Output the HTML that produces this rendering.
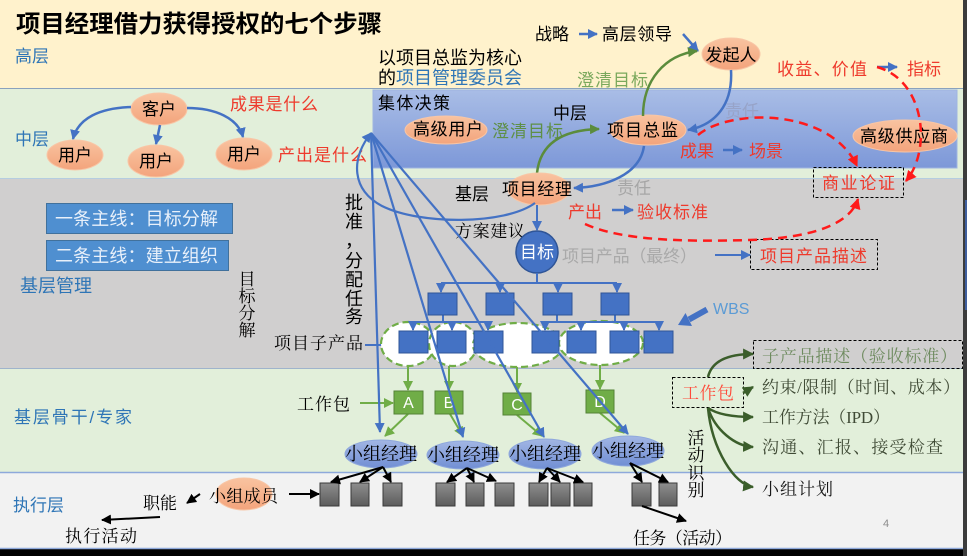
<!DOCTYPE html>
<html><head><meta charset="utf-8"><style>
html,body{margin:0;padding:0;background:#000;}
svg{display:block;}
.s{font-family:"Liberation Sans","Noto Sans CJK SC",sans-serif;}
.f{font-family:"Liberation Serif","Noto Serif CJK SC",serif;}
</style></head><body>
<svg width="967" height="556" viewBox="0 0 967 556" xmlns="http://www.w3.org/2000/svg">
<defs>
<marker id="ab" viewBox="0 0 10 10" refX="9" refY="5" markerWidth="10" markerHeight="10" orient="auto" markerUnits="userSpaceOnUse"><path d="M0,0 L10,5 L0,10 z" fill="#4472c4"/></marker>
<marker id="ag" viewBox="0 0 10 10" refX="9" refY="5" markerWidth="10" markerHeight="10" orient="auto" markerUnits="userSpaceOnUse"><path d="M0,0 L10,5 L0,10 z" fill="#70ad47"/></marker>
<marker id="ag2" viewBox="0 0 10 10" refX="9" refY="5" markerWidth="10" markerHeight="10" orient="auto" markerUnits="userSpaceOnUse"><path d="M0,0 L10,5 L0,10 z" fill="#5b8c3c"/></marker>
<marker id="ad" viewBox="0 0 10 10" refX="9" refY="5" markerWidth="11" markerHeight="11" orient="auto" markerUnits="userSpaceOnUse"><path d="M0,0 L10,5 L0,10 z" fill="#3b5e2b"/></marker>
<marker id="ak" viewBox="0 0 10 10" refX="9" refY="5" markerWidth="10" markerHeight="10" orient="auto" markerUnits="userSpaceOnUse"><path d="M0,0 L10,5 L0,10 z" fill="#000"/></marker>
<marker id="ar" viewBox="0 0 10 10" refX="9" refY="5" markerWidth="11" markerHeight="11" orient="auto" markerUnits="userSpaceOnUse"><path d="M0,0 L10,5 L0,10 z" fill="#ff1a1a"/></marker>
<linearGradient id="gblue" x1="0" y1="0" x2="0" y2="1"><stop offset="0" stop-color="#a9bde6"/><stop offset="1" stop-color="#7d98d8"/></linearGradient>
<linearGradient id="gsal" x1="0" y1="0" x2="0" y2="1"><stop offset="0" stop-color="#f9c3a0"/><stop offset="1" stop-color="#f3a47c"/></linearGradient>
<linearGradient id="gmgr" x1="0" y1="0" x2="0" y2="1"><stop offset="0" stop-color="#a2b6e4"/><stop offset="1" stop-color="#718fd4"/></linearGradient>
<linearGradient id="ggray" x1="0" y1="0" x2="0" y2="1"><stop offset="0" stop-color="#8e8e8e"/><stop offset="1" stop-color="#5c5c5c"/></linearGradient>
</defs>

<!-- bands -->
<rect x="0" y="0" width="967" height="556" fill="#000"/>
<rect x="0" y="0" width="963" height="88" fill="#fff2cc"/>
<rect x="0" y="88" width="963" height="90" fill="#e2efda"/>
<rect x="0" y="178" width="963" height="190" fill="#d0cfcf"/>
<rect x="0" y="368" width="963" height="104" fill="#e2efda"/>
<rect x="0" y="472" width="963" height="77" fill="#f2f2f2"/>
<line x1="0" y1="88.5" x2="963" y2="88.5" stroke="#8aa2bd" stroke-width="1"/>
<line x1="0" y1="178.5" x2="963" y2="178.5" stroke="#b5cde0" stroke-width="1"/>
<line x1="0" y1="368.5" x2="963" y2="368.5" stroke="#9fb4cc" stroke-width="1"/>
<line x1="0" y1="472.5" x2="963" y2="472.5" stroke="#8ea9db" stroke-width="1.5"/>
<line x1="0" y1="548.5" x2="963" y2="548.5" stroke="#8ea9db" stroke-width="1.5"/>
<rect x="963" y="0" width="4" height="556" fill="#3c3c3c"/>
<rect x="965" y="200" width="2" height="110" fill="#3f5f9f"/>

<!-- collective decision rect -->
<rect x="373" y="90" width="584" height="78" fill="url(#gblue)" stroke="#9fb4e0" stroke-width="1"/>

<!-- title -->
<text x="16" y="32" class="s" font-size="24" font-weight="bold" fill="#000" textLength="366" lengthAdjust="spacingAndGlyphs">项目经理借力获得授权的七个步骤</text>
<text x="15" y="62" class="s" font-size="17" fill="#2e75b6">高层</text>
<text x="15" y="145" class="s" font-size="17" fill="#2e75b6">中层</text>
<text x="20" y="292" class="s" font-size="18" fill="#2e75b6" textLength="72">基层管理</text>
<text x="14" y="423" class="s" font-size="17" fill="#2e75b6" textLength="118">基层骨干/专家</text>
<text x="13" y="511" class="s" font-size="17" fill="#2e75b6">执行层</text>

<!-- customer / users -->
<ellipse cx="159" cy="109" rx="28" ry="16" fill="url(#gsal)" stroke="#f8c6a6"/>
<ellipse cx="75" cy="155" rx="28" ry="15" fill="url(#gsal)" stroke="#f8c6a6"/>
<ellipse cx="156" cy="161" rx="28" ry="16" fill="url(#gsal)" stroke="#f8c6a6"/>
<ellipse cx="244" cy="154" rx="28" ry="16" fill="url(#gsal)" stroke="#f8c6a6"/>
<text x="159" y="115" class="s" font-size="17" text-anchor="middle">客户</text>
<text x="75" y="161" class="s" font-size="17" text-anchor="middle">用户</text>
<text x="156" y="167" class="s" font-size="17" text-anchor="middle">用户</text>
<text x="244" y="160" class="s" font-size="17" text-anchor="middle">用户</text>
<path d="M131,107 C100,108 78,118 73,139" fill="none" stroke="#4472c4" stroke-width="2.5" marker-end="url(#ab)"/>
<path d="M160,125 L156,144" fill="none" stroke="#4472c4" stroke-width="2.5" marker-end="url(#ab)"/>
<path d="M187,108 C215,108 238,118 243,137" fill="none" stroke="#4472c4" stroke-width="2.5" marker-end="url(#ab)"/>
<text x="230" y="110" class="s" font-size="17" fill="#ee3a2c" textLength="88">成果是什么</text>
<text x="278" y="161" class="s" font-size="17" fill="#ee3a2c" textLength="89">产出是什么</text>

<!-- top centre texts -->
<text x="378" y="64" class="s" font-size="18" fill="#000" textLength="144">以项目总监为核心</text>
<text x="378" y="84" class="s" font-size="18" textLength="144"><tspan fill="#000">的</tspan><tspan fill="#2e75b6">项目管理委员会</tspan></text>
<text x="535" y="40" class="s" font-size="17" fill="#000">战略</text>
<path d="M579,34 L597,34" stroke="#4472c4" stroke-width="2.5" marker-end="url(#ab)"/>
<text x="602" y="40" class="s" font-size="17" fill="#000" textLength="70">高层领导</text>
<text x="577" y="86" class="s" font-size="17" fill="#7aa85c" textLength="71">澄清目标</text>
<path d="M683,34 L698,51" stroke="#4472c4" stroke-width="2.5" marker-end="url(#ab)"/>

<ellipse cx="731" cy="54" rx="29" ry="16" fill="url(#gsal)" stroke="#f8c6a6"/>
<text x="731" y="61" class="s" font-size="17" text-anchor="middle">发起人</text>
<text x="777" y="75" class="s" font-size="17" fill="#ee3a2c" textLength="90">收益、价值</text>
<path d="M877,67 L897,67" stroke="#4472c4" stroke-width="2.5" marker-end="url(#ab)"/>
<text x="907" y="75" class="s" font-size="17" fill="#ee3a2c">指标</text>

<!-- middle decision area -->
<text x="378" y="109" class="s" font-size="17" fill="#000" textLength="72">集体决策</text>
<ellipse cx="446" cy="130" rx="41" ry="14" fill="url(#gsal)" stroke="#f8c6a6"/>
<text x="413" y="135" class="s" font-size="17" fill="#000" textLength="70">高级用户</text>
<text x="492" y="137" class="s" font-size="17" fill="#5e8f46" textLength="71">澄清目标</text>
<text x="553" y="119" class="s" font-size="17" fill="#000">中层</text>
<ellipse cx="648" cy="130" rx="38" ry="15" fill="url(#gsal)" stroke="#f8c6a6"/>
<text x="607" y="136" class="s" font-size="17" fill="#000" textLength="71">项目总监</text>
<text x="725" y="117" class="s" font-size="17" fill="#97a3c8">责任</text>
<text x="680" y="157" class="s" font-size="17" fill="#ee3a2c">成果</text>
<path d="M723,150 L742,150" stroke="#4472c4" stroke-width="2.5" marker-end="url(#ab)"/>
<text x="749" y="157" class="s" font-size="17" fill="#ee3a2c">场景</text>
<ellipse cx="905" cy="136" rx="52" ry="16" fill="url(#gsal)" stroke="#f8c6a6"/>
<text x="860" y="142" class="s" font-size="17" fill="#000" textLength="88">高级供应商</text>

<!-- green arrows -->
<path d="M643,116 C643,80 665,55 697,51" fill="none" stroke="#5b8c3c" stroke-width="2.5" marker-end="url(#ag2)"/>
<path d="M537,173 C540,145 560,130 599,129" fill="none" stroke="#5b8c3c" stroke-width="2.5" marker-end="url(#ag2)"/>
<!-- blue curves -->
<path d="M731,70 C733,105 715,125 688,130" fill="none" stroke="#4472c4" stroke-width="2.5" marker-end="url(#ab)"/>
<path d="M644,146 C640,175 605,187 574,188" fill="none" stroke="#4472c4" stroke-width="2.5" marker-end="url(#ab)"/>

<!-- business case -->
<rect x="813.5" y="167.5" width="90" height="30" fill="none" stroke="#000" stroke-width="1" stroke-dasharray="3,2"/>
<text x="822" y="189" class="s" font-size="17" fill="#ee3a2c" textLength="73">商业论证</text>
<rect x="750.5" y="239.5" width="127" height="30" fill="none" stroke="#000" stroke-width="1" stroke-dasharray="3,2"/>
<text x="760" y="262" class="s" font-size="17" fill="#ee3a2c" textLength="107">项目产品描述</text>

<!-- red dashed -->
<path d="M877,67 C925,80 932,150 906,181" fill="none" stroke="#ff1a1a" stroke-width="2.5" stroke-dasharray="9,6" marker-end="url(#ar)"/>
<path d="M698,135 C730,108 830,108 857,166" fill="none" stroke="#ff1a1a" stroke-width="2.5" stroke-dasharray="9,6" marker-end="url(#ar)"/>
<path d="M585,224 C620,240 680,242 750,240 C810,238 850,225 858,199" fill="none" stroke="#ff1a1a" stroke-width="2.5" stroke-dasharray="9,6" marker-end="url(#ar)"/>

<!-- basic level -->
<rect x="46.5" y="203.5" width="186" height="30" fill="#4f8fd0" stroke="#41719c"/>
<text x="55" y="225" class="s" font-size="18" fill="#e8f0fa" textLength="163">一条主线：目标分解</text>
<rect x="46.5" y="240.5" width="182" height="30" fill="#4f8fd0" stroke="#41719c"/>
<text x="55" y="262" class="s" font-size="18" fill="#e8f0fa" textLength="163">二条主线：建立组织</text>
<g class="f" font-size="17" fill="#000" text-anchor="middle">
<text x="247" y="285">目</text><text x="247" y="302">标</text><text x="247" y="319">分</text><text x="247" y="336">解</text>
</g>
<g class="s" font-size="18" fill="#000" text-anchor="middle">
<text x="354" y="209">批</text><text x="354" y="228">准</text><text x="354" y="247">，</text><text x="354" y="267">分</text><text x="354" y="286">配</text><text x="354" y="305">任</text><text x="354" y="323">务</text>
</g>
<text x="274" y="349" class="f" font-size="17" fill="#000" textLength="89">项目子产品</text>
<path d="M365,345 L398,345" stroke="#4472c4" stroke-width="2" marker-end="url(#ab)"/>

<ellipse cx="539" cy="189" rx="31" ry="16" fill="url(#gsal)" stroke="#f8c6a6"/>
<text x="502" y="195" class="s" font-size="17" fill="#000" textLength="70">项目经理</text>
<text x="455" y="200" class="s" font-size="17" fill="#000">基层</text>
<text x="617" y="194" class="s" font-size="17" fill="#a6a6a6">责任</text>
<text x="568" y="218" class="s" font-size="17" fill="#ee3a2c">产出</text>
<path d="M612,210 L633,210" stroke="#4472c4" stroke-width="2.5" marker-end="url(#ab)"/>
<text x="637" y="218" class="s" font-size="17" fill="#ee3a2c" textLength="71">验收标准</text>
<text x="455" y="237" class="f" font-size="17" fill="#000" textLength="70">方案建议</text>
<path d="M537,205 L537,230" stroke="#4472c4" stroke-width="2" marker-end="url(#ab)"/>
<circle cx="537" cy="252" r="21" fill="#4472c4" stroke="#2f5597" stroke-width="1.5"/>
<text x="537" y="258" class="s" font-size="17" fill="#fff" text-anchor="middle">目标</text>
<text x="562" y="262" class="s" font-size="17" fill="#a9a9a9" textLength="135">项目产品（最终）</text>
<path d="M715,255 L750,255" stroke="#4472c4" stroke-width="2" marker-end="url(#ab)"/>

<!-- WBS label/arrow -->
<text x="713" y="314" font-family="Liberation Sans, sans-serif" font-size="16" fill="#5b9bd5">WBS</text>
<line x1="707" y1="309.5" x2="689" y2="319.5" stroke="#4472c4" stroke-width="6"/>
<polygon points="678,325 692,326 685.5,313" fill="#4472c4"/>

<!-- dashed ellipses -->
<g fill="#fff" stroke="#70ad47" stroke-width="2.2" stroke-dasharray="7,4">
<ellipse cx="408" cy="344" rx="27" ry="22"/>
<ellipse cx="453" cy="344" rx="24" ry="22"/>
<ellipse cx="518" cy="345" rx="45" ry="22"/>
<ellipse cx="601" cy="343" rx="42" ry="22"/>
</g>

<!-- tree lines -->
<g stroke="#4472c4" stroke-width="2" fill="none">
<path d="M537,273 L537,283 M441,283 L617,283"/>
<path d="M441,283 L441,292" marker-end="url(#ab)"/>
<path d="M500,283 L500,292" marker-end="url(#ab)"/>
<path d="M558,283 L558,292" marker-end="url(#ab)"/>
<path d="M617,283 L617,292" marker-end="url(#ab)"/>
<path d="M443,315 L443,322 M413,322 L488,322 M557,315 L557,322 M615,315 L615,322 M545,322 L659,322"/>
<path d="M413,322 L413,330" marker-end="url(#ab)"/>
<path d="M452,322 L452,330" marker-end="url(#ab)"/>
<path d="M488,322 L488,330" marker-end="url(#ab)"/>
<path d="M545,322 L545,330" marker-end="url(#ab)"/>
<path d="M581,322 L581,330" marker-end="url(#ab)"/>
<path d="M624,322 L624,330" marker-end="url(#ab)"/>
<path d="M659,322 L659,330" marker-end="url(#ab)"/>
</g>
<g fill="#4472c4" stroke="#2f5597" stroke-width="1">
<rect x="428" y="293" width="29" height="22"/>
<rect x="486" y="293" width="28" height="22"/>
<rect x="543" y="293" width="29" height="22"/>
<rect x="601" y="293" width="28" height="22"/>
<rect x="399" y="331" width="29" height="22"/>
<rect x="437" y="331" width="29" height="22"/>
<rect x="474" y="331" width="29" height="22"/>
<rect x="532" y="331" width="27" height="22"/>
<rect x="567" y="331" width="29" height="22"/>
<rect x="610" y="331" width="29" height="22"/>
<rect x="644" y="331" width="29" height="22"/>
</g>

<!-- green to work packages -->
<g stroke="#70ad47" stroke-width="2" fill="none">
<path d="M408,366 L408,390" marker-end="url(#ag)"/>
<path d="M449,366 L449,390" marker-end="url(#ag)"/>
<path d="M517,367 L517,392" marker-end="url(#ag)"/>
<path d="M600,365 L600,389" marker-end="url(#ag)"/>
<path d="M360,403 L393,403" marker-end="url(#ag)"/>
<path d="M408,414 L385,436" marker-end="url(#ag)"/>
<path d="M450,414 L463,436" marker-end="url(#ag)"/>
<path d="M517,415 L542,436" marker-end="url(#ag)"/>
<path d="M600,413 L624,433" marker-end="url(#ag)"/>
</g>
<g fill="#70ad47" stroke="#548235" stroke-width="1">
<rect x="394" y="391" width="29" height="23"/>
<rect x="435" y="391" width="28" height="23"/>
<rect x="503" y="393" width="28" height="22"/>
<rect x="586" y="390" width="28" height="23"/>
</g>
<g font-family="Liberation Sans, sans-serif" font-size="16" fill="#fff" text-anchor="middle">
<text x="408.5" y="408">A</text><text x="449" y="408">B</text><text x="517" y="410">C</text><text x="600" y="407">D</text>
</g>
<text x="297" y="410" class="f" font-size="17" fill="#000" textLength="53">工作包</text>

<!-- team managers -->
<g fill="url(#gmgr)" stroke="#8fa8dc" stroke-width="1">
<ellipse cx="381" cy="454" rx="36" ry="14"/>
<ellipse cx="463" cy="455" rx="36" ry="14"/>
<ellipse cx="545" cy="454" rx="36" ry="15"/>
<ellipse cx="628" cy="451" rx="36" ry="15"/>
</g>

<!-- big blue lines from convergence -->
<g stroke="#4472c4" stroke-width="2.2" fill="none">
<path d="M535,203 C505,225 420,225 382,206 C352,190 350,160 371,133" marker-end="url(#ab)"/>
<path d="M371,133 L380,432" marker-end="url(#ab)"/>
<path d="M371,133 L463,437" marker-end="url(#ab)"/>
<path d="M371,133 L544,437" marker-end="url(#ab)"/>
<path d="M371,133 L628,434" marker-end="url(#ab)"/>
</g>

<g class="f" font-size="18" fill="#000" text-anchor="middle">
<text x="381" y="460">小组经理</text>
<text x="463" y="461">小组经理</text>
<text x="545" y="460">小组经理</text>
<text x="628" y="457">小组经理</text>
</g>

<!-- executors -->
<g fill="url(#ggray)" stroke="#3a3a3a" stroke-width="1">
<rect x="320" y="483" width="19" height="23"/>
<rect x="351" y="483" width="18" height="23"/>
<rect x="383" y="483" width="19" height="23"/>
<rect x="436" y="483" width="19" height="23"/>
<rect x="466" y="483" width="18" height="23"/>
<rect x="495" y="483" width="19" height="23"/>
<rect x="529" y="483" width="19" height="23"/>
<rect x="551" y="483" width="19" height="23"/>
<rect x="574" y="483" width="18" height="23"/>
<rect x="632" y="483" width="19" height="23"/>
<rect x="659" y="483" width="18" height="23"/>
</g>
<g stroke="#000" stroke-width="2" fill="none">
<path d="M383,467 L331,482" marker-end="url(#ak)"/>
<path d="M383,467 L360,482" marker-end="url(#ak)"/>
<path d="M383,467 L391,482" marker-end="url(#ak)"/>
<path d="M467,468 L447,482" marker-end="url(#ak)"/>
<path d="M467,468 L474,482" marker-end="url(#ak)"/>
<path d="M467,468 L496,481" marker-end="url(#ak)"/>
<path d="M547,468 L539,482" marker-end="url(#ak)"/>
<path d="M547,468 L560,482" marker-end="url(#ak)"/>
<path d="M547,468 L583,482" marker-end="url(#ak)"/>
<path d="M630,463 L642,482" marker-end="url(#ak)"/>
<path d="M630,463 L668,482" marker-end="url(#ak)"/>
<path d="M642,506 L686,521" marker-end="url(#ak)"/>
<path d="M289,494 L319,494" marker-end="url(#ak)"/>
<path d="M200,494 L187,503" marker-end="url(#ak)"/>
<path d="M160,517 L102,520" marker-end="url(#ak)"/>
</g>
<ellipse cx="244" cy="494" rx="28" ry="16" fill="url(#gsal)" stroke="#f8c6a6"/>
<text x="209" y="502" class="f" font-size="17" fill="#000" textLength="69">小组成员</text>
<text x="143" y="509" class="f" font-size="17" fill="#000">职能</text>
<text x="65" y="542" class="f" font-size="17" fill="#000" textLength="72">执行活动</text>
<text x="633" y="544" class="f" font-size="17" fill="#000" textLength="99">任务（活动）</text>

<!-- right bottom -->
<rect x="753.5" y="340.5" width="209" height="28" fill="none" stroke="#000" stroke-width="1" stroke-dasharray="3,2"/>
<rect x="672.5" y="377.5" width="71" height="30" fill="none" stroke="#000" stroke-width="1" stroke-dasharray="3,2"/>
<text x="682" y="399" class="f" font-size="17" fill="#ff4b3b" textLength="52">工作包</text>
<g stroke="#3b5e2b" stroke-width="2.5" fill="none">
<path d="M708,377 C712,360 730,354 753,354" marker-end="url(#ad)"/>
<path d="M743,393 L753,387" marker-end="url(#ad)"/>
<path d="M708,408 C718,415 735,417 753,417" marker-end="url(#ad)"/>
<path d="M708,408 C715,430 735,446 753,447" marker-end="url(#ad)"/>
<path d="M708,408 C712,450 735,485 753,487" marker-end="url(#ad)"/>
</g>
<text x="762" y="362" class="f" font-size="17" fill="#6e8b5f" textLength="195">子产品描述（验收标准）</text>
<text x="762" y="393" class="f" font-size="17" fill="#3f4a35" textLength="198">约束/限制（时间、成本）</text>
<text x="762" y="423" class="f" font-size="17" fill="#3f4a35" textLength="128">工作方法（IPD）</text>
<text x="762" y="453" class="f" font-size="17" fill="#3f4a35" textLength="181">沟通、汇报、接受检查</text>
<text x="762" y="495" class="f" font-size="17" fill="#1a1a1a" textLength="71">小组计划</text>
<g class="f" font-size="17" fill="#000" text-anchor="middle">
<text x="696" y="444">活</text><text x="696" y="461">动</text><text x="696" y="479">识</text><text x="696" y="496">别</text>
</g>
<text x="883" y="527" font-family="Liberation Sans, sans-serif" font-size="11" fill="#8c8c8c">4</text>
</svg>
</body></html>
